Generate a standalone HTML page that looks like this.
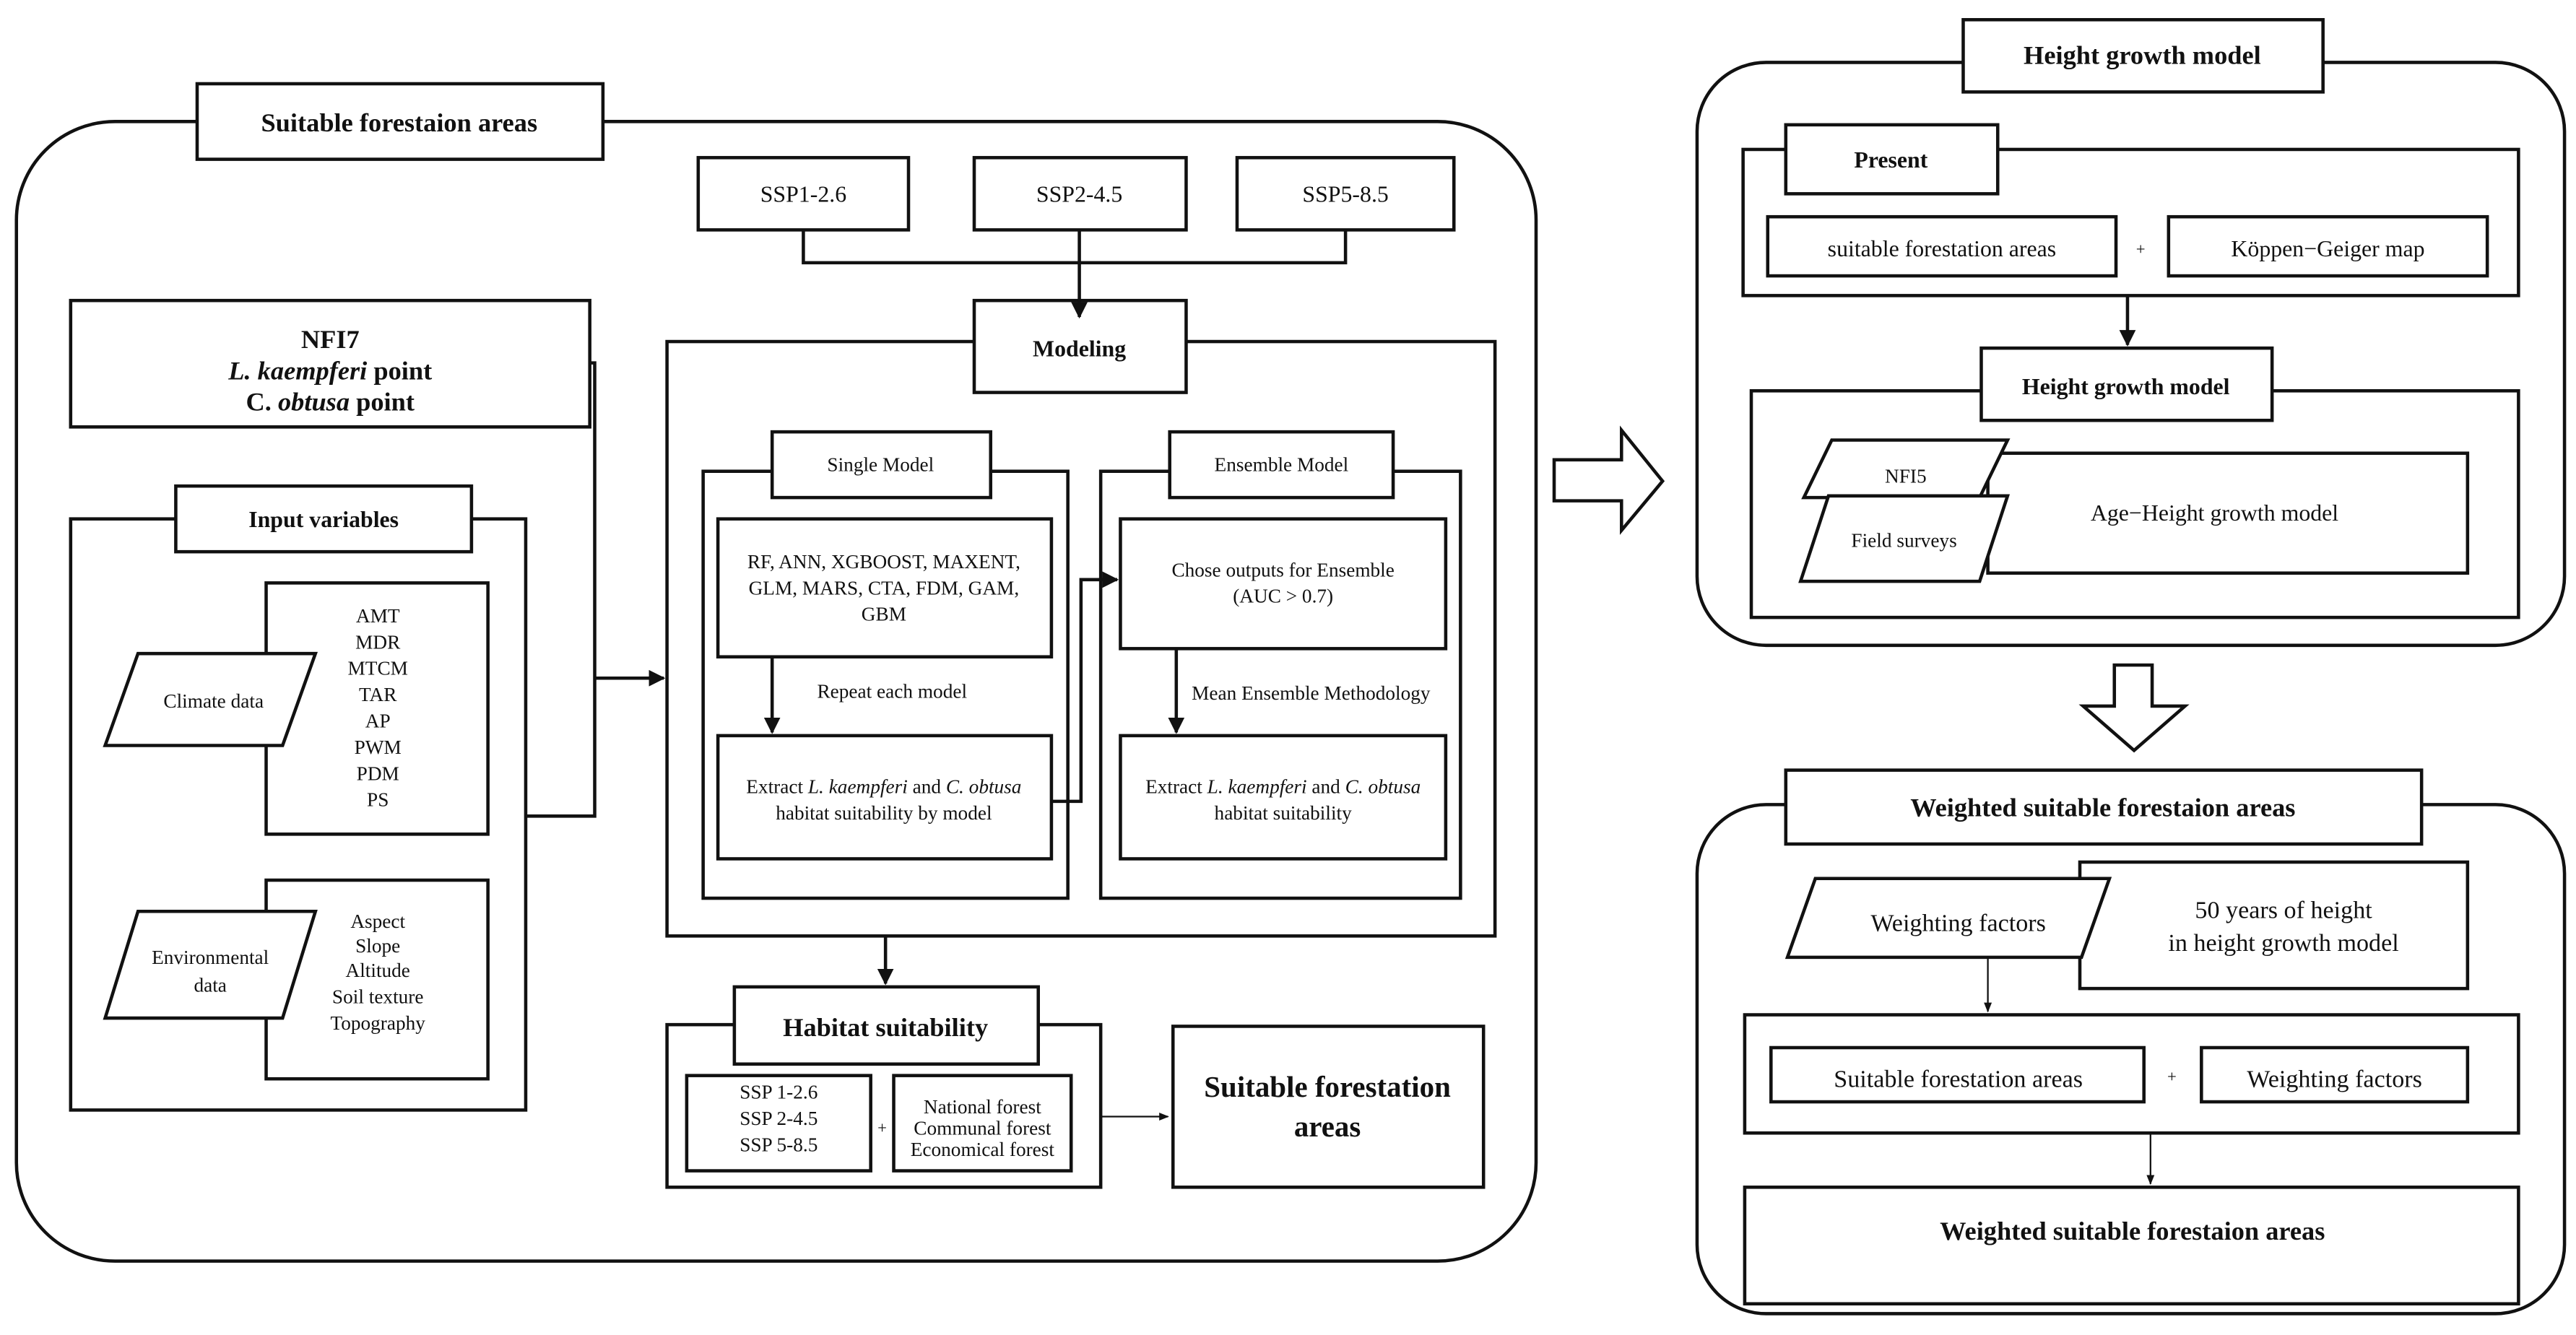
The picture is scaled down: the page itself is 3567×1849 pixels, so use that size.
<!DOCTYPE html>
<html><head><meta charset="utf-8"><style>
html,body{margin:0;padding:0;background:#fff;}
svg{display:block;}
text{font-family:"Liberation Serif",serif;fill:#111;}
</style></head><body>
<svg width="3567" height="1849" viewBox="0 0 1568 813" preserveAspectRatio="none" xmlns="http://www.w3.org/2000/svg">
<defs>
<marker id="a" viewBox="0 0 10 10" refX="9" refY="5" markerWidth="5" markerHeight="5" orient="auto"><path d="M0,0 L10,5 L0,10 Z" fill="#111"/></marker>
<marker id="s" viewBox="0 0 10 10" refX="9" refY="5" markerWidth="6" markerHeight="6" orient="auto"><path d="M0,1 L10,5 L0,9 Z" fill="#111"/></marker>
</defs>
<g fill="#fff" stroke="#111" stroke-width="2">
<rect x="10" y="74" width="925" height="694" rx="60"/>
<rect x="120" y="51" width="247" height="46"/>
<rect x="425" y="96" width="128" height="44"/>
<rect x="593" y="96" width="129" height="44"/>
<rect x="753" y="96" width="132" height="44"/>
<rect x="406" y="208" width="504" height="362"/>
<rect x="593" y="183" width="129" height="56"/>
<rect x="43" y="183" width="316" height="77"/>
<rect x="43" y="316" width="277" height="360"/>
<rect x="107" y="296" width="180" height="40"/>
<rect x="162" y="355" width="135" height="153"/>
<polygon points="84,398 192,398 172,454 64,454"/>
<rect x="162" y="536" width="135" height="121"/>
<polygon points="84,555 192,555 172,620 64,620"/>
<rect x="428" y="287" width="222" height="260"/>
<rect x="470" y="263" width="133" height="40"/>
<rect x="437" y="316" width="203" height="84"/>
<rect x="437" y="448" width="203" height="75"/>
<rect x="670" y="287" width="219" height="260"/>
<rect x="712" y="263" width="136" height="40"/>
<rect x="682" y="316" width="198" height="79"/>
<rect x="682" y="448" width="198" height="75"/>
<rect x="406" y="624" width="264" height="99"/>
<rect x="447" y="601" width="185" height="47"/>
<rect x="418" y="655" width="112" height="58"/>
<rect x="544" y="655" width="108" height="58"/>
<rect x="714" y="625" width="189" height="98"/>
<rect x="1033" y="38" width="528" height="355" rx="42"/>
<rect x="1195" y="12" width="219" height="44"/>
<rect x="1061" y="91" width="472" height="89"/>
<rect x="1087" y="76" width="129" height="42"/>
<rect x="1076" y="132" width="212" height="36"/>
<rect x="1320" y="132" width="194" height="36"/>
<rect x="1066" y="238" width="467" height="138"/>
<rect x="1206" y="212" width="177" height="44"/>
<rect x="1210" y="276" width="292" height="73"/>
<polygon points="1115,268 1222,268 1205,303 1098,303"/>
<polygon points="1113,302 1222,302 1205,354 1096,354"/>
<polygon points="946,280 987,280 987,262 1012,293 987,323 987,305 946,305"/>
<polygon points="1287,405 1310,405 1310,430 1330,430 1299,457 1268,430 1287,430"/>
<rect x="1033" y="490" width="528" height="310" rx="42"/>
<rect x="1087" y="469" width="387" height="45"/>
<rect x="1266" y="525" width="236" height="77"/>
<polygon points="1105,535 1284,535 1267,583 1088,583"/>
<rect x="1062" y="618" width="471" height="72"/>
<rect x="1078" y="638" width="227" height="33"/>
<rect x="1340" y="638" width="162" height="33"/>
<rect x="1062" y="723" width="471" height="71"/>
</g>
<g fill="none" stroke="#111" stroke-width="2">
<path d="M489,140 V160 H819 V140"/>
<path d="M657,140 V193" marker-end="url(#a)"/>
<path d="M359,221 H362 V497 H320"/>
<path d="M362,413 H404" marker-end="url(#a)"/>
<path d="M470,400 V446" marker-end="url(#a)"/>
<path d="M716,395 V446" marker-end="url(#a)"/>
<path d="M640,488 H658 V353 H680" marker-end="url(#a)"/>
<path d="M539,570 V599" marker-end="url(#a)"/>
<path d="M1295,180 V210" marker-end="url(#a)"/>
</g>
<g fill="none" stroke="#111" stroke-width="1">
<path d="M670,680 H711" marker-end="url(#s)"/>
<path d="M1210,583 V616" marker-end="url(#s)"/>
<path d="M1309,690 V721" marker-end="url(#s)"/>
</g>
<g text-anchor="middle">
<text x="243" y="80" font-size="16" font-weight="bold">Suitable forestaion areas</text>
<text x="489" y="123" font-size="14">SSP1-2.6</text>
<text x="657" y="123" font-size="14">SSP2-4.5</text>
<text x="819" y="123" font-size="14">SSP5-8.5</text>
<text x="657" y="217" font-size="14" font-weight="bold">Modeling</text>
<text x="201" y="212" font-size="16" font-weight="bold">NFI7</text>
<text x="201" y="231" font-size="16" font-weight="bold"><tspan font-style="italic">L. kaempferi</tspan> point</text>
<text x="201" y="250" font-size="16" font-weight="bold">C. <tspan font-style="italic">obtusa</tspan> point</text>
<text x="197" y="321" font-size="14" font-weight="bold">Input variables</text>
<g font-size="12"><text x="230" y="379">AMT</text><text x="230" y="395">MDR</text><text x="230" y="411">MTCM</text><text x="230" y="427">TAR</text><text x="230" y="443">AP</text><text x="230" y="459">PWM</text><text x="230" y="475">PDM</text><text x="230" y="491">PS</text>
<text x="130" y="431">Climate data</text>
<text x="230" y="565">Aspect</text><text x="230" y="580">Slope</text><text x="230" y="595">Altitude</text><text x="230" y="611">Soil texture</text><text x="230" y="627">Topography</text>
<text x="128" y="587">Environmental</text><text x="128" y="604">data</text>
<text x="536" y="287">Single Model</text>
<text x="780" y="287">Ensemble Model</text>
<text x="538" y="346">RF, ANN, XGBOOST, MAXENT,</text>
<text x="538" y="362">GLM, MARS, CTA, FDM, GAM,</text>
<text x="538" y="378">GBM</text>
<text x="543" y="425">Repeat each model</text>
<text x="538" y="483">Extract <tspan font-style="italic">L. kaempferi</tspan> and <tspan font-style="italic">C. obtusa</tspan></text>
<text x="538" y="499">habitat suitability by model</text>
<text x="781" y="351">Chose outputs for Ensemble</text>
<text x="781" y="367">(AUC &gt; 0.7)</text>
<text x="798" y="426">Mean Ensemble Methodology</text>
<text x="781" y="483">Extract <tspan font-style="italic">L. kaempferi</tspan> and <tspan font-style="italic">C. obtusa</tspan></text>
<text x="781" y="499">habitat suitability</text>
<text x="474" y="669">SSP 1-2.6</text><text x="474" y="685">SSP 2-4.5</text><text x="474" y="701">SSP 5-8.5</text>
<text x="598" y="678">National forest</text><text x="598" y="691">Communal forest</text><text x="598" y="704">Economical forest</text>
</g>
<text x="537" y="690" font-size="10">+</text>
<text x="539" y="631" font-size="16" font-weight="bold">Habitat suitability</text>
<text x="808" y="668" font-size="18" font-weight="bold">Suitable forestation</text>
<text x="808" y="692" font-size="18" font-weight="bold">areas</text>
<text x="1304" y="39" font-size="16" font-weight="bold">Height growth model</text>
<text x="1151" y="102" font-size="14" font-weight="bold">Present</text>
<text x="1182" y="156" font-size="14">suitable forestation areas</text>
<text x="1303" y="155" font-size="10">+</text>
<text x="1417" y="156" font-size="14">Köppen−Geiger map</text>
<text x="1294" y="240" font-size="14" font-weight="bold">Height growth model</text>
<text x="1160" y="294" font-size="12">NFI5</text>
<text x="1159" y="333" font-size="12">Field surveys</text>
<text x="1348" y="317" font-size="14">Age−Height growth model</text>
<text x="1280" y="497" font-size="16" font-weight="bold">Weighted suitable forestaion areas</text>
<text x="1192" y="567" font-size="15">Weighting factors</text>
<text x="1390" y="559" font-size="15">50 years of height</text>
<text x="1390" y="579" font-size="15">in height growth model</text>
<text x="1192" y="662" font-size="15">Suitable forestation areas</text>
<text x="1322" y="659" font-size="10">+</text>
<text x="1421" y="662" font-size="15">Weighting factors</text>
<text x="1298" y="755" font-size="16" font-weight="bold">Weighted suitable forestaion areas</text>
</g>
</svg>
</body></html>
